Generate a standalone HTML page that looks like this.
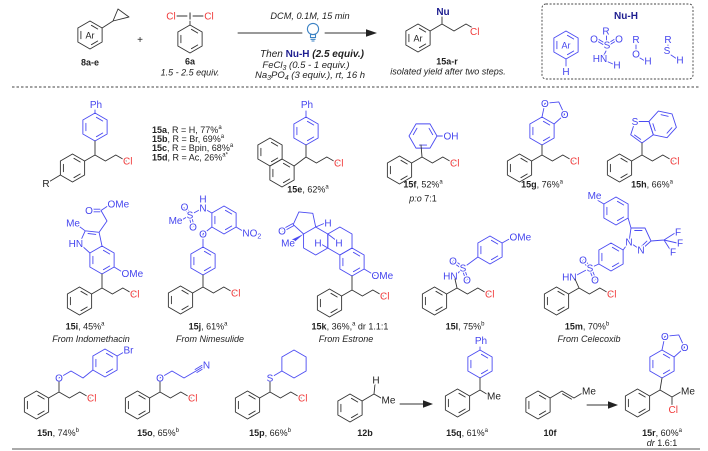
<!DOCTYPE html>
<html><head><meta charset="utf-8"><style>
html,body{margin:0;padding:0;background:#fff}
svg{display:block}
text{font-family:"Liberation Sans",sans-serif}
.k{stroke:#333;stroke-width:0.9;fill:none;stroke-linecap:round;stroke-linejoin:round}
.u{stroke:#4b4bf2;stroke-width:0.9;fill:none;stroke-linecap:round;stroke-linejoin:round}
.a{font-size:10px;text-anchor:middle;stroke:#fff;stroke-width:2.6px;paint-order:stroke;stroke-linejoin:round}
.K{fill:#222}.B{fill:#4545ee}.R{fill:#f03a3a}.N{fill:#1e1e90}
.c{font-size:9px;fill:#222;text-anchor:middle}
.i{font-style:italic}
.bd{font-weight:bold}
.s{text-anchor:start}
.e{text-anchor:end}
</style></head><body>
<svg width="708" height="451" viewBox="0 0 708 451" xmlns="http://www.w3.org/2000/svg">
<defs>
<path id="ar" fill="none" d="M0,-14L12.12,-7L12.12,7L0,14L-12.12,7L-12.12,-7Z M1.4,-9.7L7.7,-6 M7.7,6L1.4,9.7 M-9.1,3.7L-9.1,-3.7"/>
<path id="hx" fill="none" d="M0,-14L12.12,-7L12.12,7L0,14L-12.12,7L-12.12,-7Z"/>
</defs>
<rect width="708" height="451" fill="#fff"/>

<!-- ============ HEADER ============ -->
<use href="#ar" x="90" y="35" class="k"/>
<text class="a K" x="90" y="38.5" style="font-size:9px">Ar</text>
<path class="k" d="M102.1,28L113,21 M113,21L118,9L129,17Z"/>
<text class="c bd" x="90" y="65.5">8a-e</text>
<text class="c" x="140" y="43" style="font-size:10px">+</text>

<path class="k" d="M177,16L187,16 M193,16L203,16 M190,20L190,25"/>
<text class="a R" x="171" y="19.5">Cl</text>
<text class="a K" x="190" y="19.5">I</text>
<text class="a R" x="209" y="19.5">Cl</text>
<use href="#ar" x="190" y="39" class="k"/>
<text class="c bd" x="190" y="64.5">6a</text>
<text class="c i" x="190" y="75.5">1.5 - 2.5 equiv.</text>

<text class="c i" x="310" y="19" style="font-size:9.2px">DCM, 0.1M, 15 min</text>
<path class="k" d="M238,33L302,33 M325,33L368,33"/>
<polygon points="377,33 366,29.3 366,36.7" fill="#222"/>
<g fill="none" stroke="#3b82c4" stroke-width="1.1">
<circle cx="313" cy="29" r="5.6"/>
<path d="M310.5,34L310.5,37.5L315.5,37.5L315.5,34 M310.5,39.3L315.5,39.3 M311.5,41L314.5,41"/>
</g>
<text class="c" x="312" y="57" style="font-size:10px"><tspan class="i">Then </tspan><tspan class="bd" fill="#1e1e90">Nu-H</tspan><tspan class="bd i"> (2.5 equiv.)</tspan></text>
<text class="c i" x="306" y="68" style="font-size:9.5px">FeCl<tspan font-size="7" dy="2">3</tspan><tspan dy="-2"> (0.5 - 1 equiv.)</tspan></text>
<text class="c i" x="310" y="78" style="font-size:9.5px">Na<tspan font-size="7" dy="2">3</tspan><tspan dy="-2">PO</tspan><tspan font-size="7" dy="2">4</tspan><tspan dy="-2"> (3 equiv.), rt, 16 h</tspan></text>

<use href="#ar" x="418" y="38" class="k"/>
<text class="a K" x="418" y="41.5" style="font-size:9px">Ar</text>
<path class="k" d="M430.1,31L442,24L454,31L466,24L473,28 M442,24L442,17"/>
<text class="a N bd" x="443" y="15">Nu</text>
<text class="a R s" x="470" y="35">Cl</text>
<text class="c bd" x="447" y="64.5">15a-r</text>
<text class="c i" x="448" y="74.5">isolated yield after two steps.</text>

<rect x="542" y="4" width="151" height="75" rx="4" fill="none" stroke="#444" stroke-width="0.9" stroke-dasharray="2,1.6"/>
<text class="a N bd" x="626" y="19">Nu-H</text>
<use href="#ar" x="566" y="45" class="u"/>
<text class="a B" x="566" y="48.5" style="font-size:9px">Ar</text>
<path class="u" d="M566,59L566,66"/>
<text class="a B" x="566" y="75">H</text>
<path class="u" d="M606.5,36L606.5,41.5 M603,44.5L597.5,41.2 M604,42.6L598.5,39.3 M610,44.5L615.5,41.2 M609,42.6L614.5,39.3 M606,51L604,55 M606,61L613,64 M636,45L636,51 M640,58L645,61 M668,45L667.5,50 M671,55L677,59"/>
<text class="a B" x="606" y="34.5">R</text>
<text class="a B" x="594" y="42.5">O</text>
<text class="a B" x="607" y="48.5">S</text>
<text class="a B" x="619" y="42.5">O</text>
<text class="a B" x="600" y="62">HN</text>
<text class="a B" x="617" y="68.5">H</text>
<text class="a B" x="636" y="43">R</text>
<text class="a B" x="636" y="57.5">O</text>
<text class="a B" x="648" y="64.5">H</text>
<text class="a B" x="668" y="43">R</text>
<text class="a B" x="667" y="54">S</text>
<text class="a B" x="680" y="63.5">H</text>

<line x1="12" y1="87" x2="700" y2="87" stroke="#444" stroke-width="0.9" stroke-dasharray="2.5,2"/>

<!-- ============ ROW 1 ============ -->
<!-- 15a-d -->
<use href="#ar" x="95" y="127" class="u"/>
<path class="u" d="M95,113L95,110"/>
<text class="a B" x="96" y="108">Ph</text>
<use href="#ar" x="72.5" y="168" class="k"/>
<path class="k" d="M95,141L95,155 M84.6,161L95,155L105.4,161L115.8,155L126.2,161 M60.4,175L47,183"/>
<text class="a R s" x="123" y="164.6">Cl</text>
<text class="a K" x="46" y="187">R</text>
<text class="c s" x="152" y="133"><tspan class="bd">15a</tspan>, R = H, 77%<tspan font-size="6" dy="-4">a</tspan></text>
<text class="c s" x="152" y="142"><tspan class="bd">15b</tspan>, R = Br, 69%<tspan font-size="6" dy="-4">a</tspan></text>
<text class="c s" x="152" y="151"><tspan class="bd">15c</tspan>, R = Bpin, 68%<tspan font-size="6" dy="-4">a</tspan></text>
<text class="c s" x="152" y="160.5"><tspan class="bd">15d</tspan>, R = Ac, 26%<tspan font-size="6" dy="-4">a*</tspan></text>

<!-- 15e -->
<use href="#ar" x="306" y="131" class="u"/>
<path class="u" d="M306,117L306,111"/>
<text class="a B" x="307" y="108">Ph</text>
<use href="#ar" x="270" y="152" class="k"/>
<use href="#ar" x="282" y="173" class="k"/>
<path class="k" d="M306,145L306,157 M294.1,166L306,157L316.4,163L326.8,157L337.2,163"/>
<text class="a R s" x="334" y="166.6">Cl</text>
<text class="c" x="308" y="192.5"><tspan class="bd">15e</tspan>, 62%<tspan font-size="6" dy="-4">a</tspan></text>

<!-- 15f -->
<use href="#ar" class="u" transform="translate(423,136) rotate(30)"/>
<path class="u" d="M437,136L444,136"/>
<text class="a B s" x="443.5" y="139.6">OH</text>
<use href="#ar" x="399.5" y="170" class="k"/>
<path class="k" d="M422,157L421,145 M411.6,163L422,157L432.4,163L442.8,157L453.2,163"/>
<text class="a R s" x="450" y="166.6">Cl</text>
<text class="c" x="423" y="187.5"><tspan class="bd">15f</tspan>, 52%<tspan font-size="6" dy="-4">a</tspan></text>
<text class="c" x="423" y="201.5"><tspan class="i">p:o</tspan> 7:1</text>

<!-- 15g -->
<use href="#ar" x="542" y="131" class="u"/>
<path class="u" d="M542,117L544.9,103.3L558.8,101.9L564.6,114.6L554.1,124"/>
<text class="a B" x="544.9" y="106.9">O</text>
<text class="a B" x="564.6" y="118.2">O</text>
<use href="#ar" x="519.5" y="168" class="k"/>
<path class="k" d="M542,145L542,155 M531.6,161L542,155L552.4,161L562.8,155L573.2,161"/>
<text class="a R s" x="570" y="164.6">Cl</text>
<text class="c" x="542" y="187.5"><tspan class="bd">15g</tspan>, 76%<tspan font-size="6" dy="-4">a</tspan></text>

<!-- 15h -->
<path class="u" d="M642,143L630.7,134.8L635,121.5L649,121.5L653.3,134.8Z M634.5,135L640.7,139.4"/>
<use href="#ar" class="u" transform="translate(662.7,124.4) rotate(-18)"/>
<text class="a B" x="635" y="125.1">S</text>
<use href="#ar" x="619.5" y="168" class="k"/>
<path class="k" d="M642,143L642,155 M631.6,161L642,155L652.4,161L662.8,155L673.2,161"/>
<text class="a R s" x="670" y="164.6">Cl</text>
<text class="c" x="652" y="187.5"><tspan class="bd">15h</tspan>, 66%<tspan font-size="6" dy="-4">a</tspan></text>

<!-- ============ ROW 2 ============ -->
<!-- 15i -->
<use href="#ar" x="102" y="260" class="u"/>
<path class="u" d="M89.9,253L79.5,243.6L85.2,230.8L99.1,232.3L102,246 M88,233.5L95.8,234.4 M85.2,230.8L78,225.5 M99.1,232.3L107,221L101,210.5 M100,209.2L91,209.2 M100,211.8L91,211.8 M101,210.5L110,204.5 M114.1,267L124,273"/>
<text class="a B e" x="83.1" y="247.2">HN</text>
<text class="a B e" x="80" y="226.5">Me</text>
<text class="a B" x="89" y="214">O</text>
<text class="a B s" x="107.5" y="207.6">OMe</text>
<text class="a B s" x="121.5" y="277.1">OMe</text>
<use href="#ar" x="79.5" y="301" class="k"/>
<path class="k" d="M102,274L102,288 M91.6,294L102,288L112.4,294L122.8,288L133.2,294"/>
<text class="a R s" x="130" y="297.6">Cl</text>
<text class="c" x="85" y="329.5"><tspan class="bd">15i</tspan>, 45%<tspan font-size="6" dy="-4">a</tspan></text>
<text class="c i" x="91" y="342">From Indomethacin</text>

<!-- 15j -->
<use href="#ar" x="203" y="261" class="u"/>
<use href="#ar" x="224" y="220" class="u"/>
<path class="u" d="M203,247L203,234L211.9,227 M211.9,213L203,208 M236.1,227L246,233 M203,208L190,215 M190,215L181,220.5 M191,214.4L186,206.4 M189,215.6L184,207.6 M191.2,214.7L194.2,226.7 M188.8,215.3L191.8,227.3"/>
<text class="a B" x="203" y="202.6">H</text>
<text class="a B" x="203" y="211.6">N</text>
<text class="a B" x="190" y="218.6">S</text>
<text class="a B" x="184.5" y="210.6">O</text>
<text class="a B" x="193" y="230.6">O</text>
<text class="a B e" x="182.5" y="223.8">Me</text>
<text class="a B" x="203" y="237.6">O</text>
<text class="a B s" x="242.4" y="236.6">NO<tspan font-size="7" dy="2">2</tspan></text>
<use href="#ar" x="180.5" y="300" class="k"/>
<path class="k" d="M203,275L203,287 M192.6,293L203,287L213.4,293L223.8,287L234.2,293"/>
<text class="a R s" x="231" y="296.6">Cl</text>
<text class="c" x="208" y="329.5"><tspan class="bd">15j</tspan>, 61%<tspan font-size="6" dy="-4">a</tspan></text>
<text class="c i" x="210" y="342">From Nimesulide</text>

<!-- 15k -->
<use href="#ar" x="352" y="262" class="u"/>
<use href="#hx" x="339.9" y="241" class="u"/>
<use href="#hx" x="315.7" y="241" class="u"/>
<path class="u" d="M303.6,234L293.2,224.6L298.9,211.9L312.8,213.3L315.7,227 M293.8,225.6L283.1,231.5 M292.6,223.6L281.9,229.5 M315.7,227L324,223.5 M327.8,248L321,244 M327.8,234L335,239.5 M364.1,269L375,275.5"/>
<polygon points="303.6,234 291.8,239.6 293.6,242.8" fill="#4b4bf2"/>
<text class="a B" x="282" y="234.5">O</text>
<text class="a B e" x="295" y="246.6">Me</text>
<text class="a B" x="328" y="226.6">H</text>
<text class="a B" x="318" y="246.6">H</text>
<text class="a B" x="339" y="246.6">H</text>
<text class="a B s" x="371.5" y="279">OMe</text>
<use href="#ar" x="329.5" y="303" class="k"/>
<path class="k" d="M352,276L352,290 M341.6,296L352,290L362.4,296L372.8,290L383.2,296"/>
<text class="a R s" x="380" y="299.6">Cl</text>
<text class="c" x="350" y="329.5"><tspan class="bd">15k</tspan>, 36%,<tspan font-size="6" dy="-4">a</tspan><tspan dy="4"> dr 1.1:1</tspan></text>
<text class="c i" x="346" y="342">From Estrone</text>

<!-- 15l -->
<use href="#ar" x="490" y="250" class="u"/>
<path class="u" d="M455,276L463,268 M463,268L477.9,257 M502.1,243L512,237.5 M463.7,267L453.7,260 M462.3,269L452.3,262 M464.1,267.6L468.1,279.6 M461.9,268.4L465.9,280.4"/>
<text class="a B e" x="457.6" y="279.6">HN</text>
<text class="a B" x="463" y="271.6">S</text>
<text class="a B" x="453" y="264.6">O</text>
<text class="a B" x="467" y="283.6">O</text>
<text class="a B s" x="509.5" y="240.6">OMe</text>
<use href="#ar" x="434.5" y="301" class="k"/>
<path class="k" d="M457,288L455,279 M446.6,294L457,288L467.4,294L477.8,288L488.2,294"/>
<text class="a R s" x="485" y="297.6">Cl</text>
<text class="c" x="465" y="329.5"><tspan class="bd">15l</tspan>, 75%<tspan font-size="6" dy="-4">b</tspan></text>

<!-- 15m -->
<use href="#ar" x="611" y="257" class="u"/>
<use href="#ar" x="616" y="211" class="u"/>
<path class="u" d="M575,276L590,268 M590,268L598.9,264 M623.1,250L629,242 M629,242L641,250L651,241L645,228L631,228Z M641.8,246.1L646.9,241.1 M642,230.5L634.7,230.5 M628.1,218L631,228 M603.9,204L598,200.5 M651,241L664,240 M664,240L675,233 M664,240L677,243 M664,240L671,251 M590.9,267.2L583.9,259.2 M589.1,268.8L582.1,260.8 M591.1,267.5L596.1,279.5 M588.9,268.5L593.9,280.5"/>
<text class="a B e" x="576.6" y="280.6">HN</text>
<text class="a B" x="590" y="271.6">S</text>
<text class="a B" x="583" y="263.6">O</text>
<text class="a B" x="595" y="283.6">O</text>
<text class="a B" x="629" y="245.6">N</text>
<text class="a B" x="641" y="253.6">N</text>
<text class="a B e" x="601.5" y="199">Me</text>
<text class="a B" x="678" y="235.6">F</text>
<text class="a B" x="680" y="246.6">F</text>
<text class="a B" x="673" y="255.6">F</text>
<use href="#ar" x="556.5" y="301" class="k"/>
<path class="k" d="M579,288L575,279 M568.6,294L579,288L589.4,294L599.8,288L610.2,294"/>
<text class="a R s" x="607" y="297.6">Cl</text>
<text class="c" x="587" y="329.5"><tspan class="bd">15m</tspan>, 70%<tspan font-size="6" dy="-4">b</tspan></text>
<text class="c i" x="589" y="342">From Celecoxib</text>

<!-- ============ ROW 3 ============ -->
<!-- 15n -->
<use href="#ar" x="105" y="363" class="u"/>
<path class="u" d="M59,378L71,371L83,378L92.9,370 M117.1,356L125,351.5"/>
<text class="a B" x="59" y="381.6">O</text>
<text class="a B s" x="123.5" y="353.6">Br</text>
<use href="#ar" x="36.5" y="405" class="k"/>
<path class="k" d="M59,392L59,382 M48.6,398L59,392L69.4,398L79.8,392L90.2,398"/>
<text class="a R s" x="87" y="401.6">Cl</text>
<text class="c" x="58" y="436"><tspan class="bd">15n</tspan>, 74%<tspan font-size="6" dy="-4">b</tspan></text>

<!-- 15o -->
<path class="u" d="M160,378L172,371L184,378L196,371 M196,371L203,366.8 M196.9,372.5L203.9,368.3 M195.1,369.5L202.1,365.3"/>
<text class="a B" x="160" y="381.6">O</text>
<text class="a B" x="206.5" y="368.6">N</text>
<use href="#ar" x="137.5" y="405" class="k"/>
<path class="k" d="M160,392L160,382 M149.6,398L160,392L170.4,398L180.8,392L191.2,398"/>
<text class="a R s" x="188" y="401.6">Cl</text>
<text class="c" x="158" y="436"><tspan class="bd">15o</tspan>, 65%<tspan font-size="6" dy="-4">b</tspan></text>

<!-- 15p -->
<use href="#hx" x="294" y="364" class="u"/>
<path class="u" d="M270,378L281.9,371"/>
<text class="a B" x="270" y="381.6">S</text>
<use href="#ar" x="247.5" y="405" class="k"/>
<path class="k" d="M270,392L270,382 M259.6,398L270,392L280.4,398L290.8,392L301.2,398"/>
<text class="a R s" x="298" y="401.6">Cl</text>
<text class="c" x="270" y="436"><tspan class="bd">15p</tspan>, 66%<tspan font-size="6" dy="-4">b</tspan></text>

<!-- 12b -->
<use href="#ar" x="350" y="408" class="k"/>
<path class="k" d="M362.1,401L374,394L375,384 M374,394L384.5,400"/>
<text class="a K" x="376" y="383.6">H</text>
<text class="a K s" x="381.5" y="403.6">Me</text>
<text class="c bd" x="365" y="436">12b</text>

<path class="k" d="M400,404L425,404"/>
<polygon points="433,404 423,400.3 423,407.7" fill="#222"/>

<!-- 15q -->
<use href="#ar" x="480" y="364" class="u"/>
<path class="u" d="M480,350L480,347"/>
<text class="a B" x="481" y="344">Ph</text>
<use href="#ar" x="457.5" y="403" class="k"/>
<path class="k" d="M469.6,396L480,390L490,396 M480,390L480,378"/>
<text class="a K s" x="487" y="399.6">Me</text>
<text class="c" x="467" y="436"><tspan class="bd">15q</tspan>, 61%<tspan font-size="6" dy="-4">a</tspan></text>

<!-- 10f -->
<use href="#ar" x="538" y="405" class="k"/>
<path class="k" d="M550.1,398L562,391L574,398L584,392 M562.5,393.8L571.5,399.1"/>
<text class="a K s" x="582" y="394.6">Me</text>
<text class="c bd" x="550" y="436">10f</text>

<path class="k" d="M587,405L610,405"/>
<polygon points="618,405 608,401.3 608,408.7" fill="#222"/>

<!-- 15r -->
<use href="#ar" x="662" y="364" class="u"/>
<path class="u" d="M662,350L664.9,336.3L678.8,334.9L684.6,347.6L674.1,357"/>
<text class="a B" x="664.9" y="339.9">O</text>
<text class="a B" x="684.6" y="351.2">O</text>
<use href="#ar" x="637.5" y="403" class="k"/>
<path class="k" d="M649.6,396L660,390L672,397L681.5,391.5 M672,397L672,406 M660,390L662,378"/>
<text class="a K s" x="681" y="394.6">Me</text>
<text class="a R s" x="668.5" y="413">Cl</text>
<text class="c" x="662" y="436"><tspan class="bd">15r</tspan>, 60%<tspan font-size="6" dy="-4">a</tspan></text>
<text class="c" x="662" y="446"><tspan class="i">dr</tspan> 1.6:1</text>

<line x1="12" y1="449" x2="700" y2="449" stroke="#555" stroke-width="1"/>
</svg>
</body></html>
